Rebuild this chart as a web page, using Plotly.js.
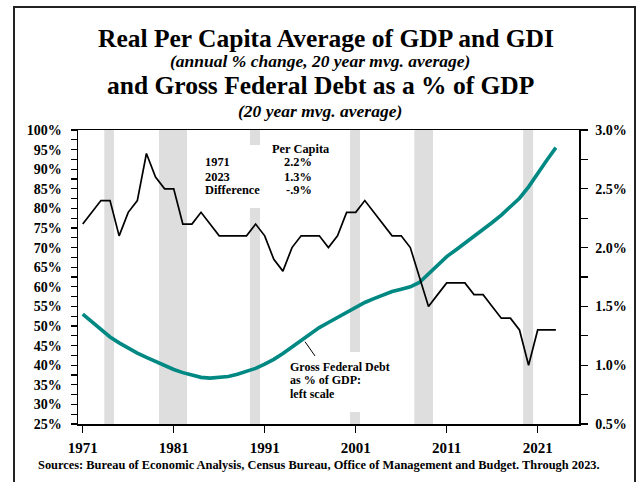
<!DOCTYPE html>
<html>
<head>
<meta charset="utf-8">
<script src="https://cdn.plot.ly/plotly-3.0.1.min.js"></script>
<style>
  html, body { margin: 0; padding: 0; background: #fff; }
  #wrap { position: relative; width: 639px; height: 482px; overflow: hidden; }
  #chart { position: absolute; left: 0; top: 0; width: 639px; height: 482px; }
  #frame {
    position: absolute; left: 13px; top: 6px; width: 623px; height: 500px;
    box-sizing: border-box; border: 2px solid #222; border-bottom: none;
    pointer-events: none;
  }
</style>
</head>
<body>
<div id="wrap">
  <div id="chart"></div>
  <div id="frame"></div>
</div>
<script>
// Annual observations, 1971-2023
const years = [
  1971, 1972, 1973, 1974, 1975, 1976, 1977, 1978, 1979, 1980,
  1981, 1982, 1983, 1984, 1985, 1986, 1987, 1988, 1989, 1990,
  1991, 1992, 1993, 1994, 1995, 1996, 1997, 1998, 1999, 2000,
  2001, 2002, 2003, 2004, 2005, 2006, 2007, 2008, 2009, 2010,
  2011, 2012, 2013, 2014, 2015, 2016, 2017, 2018, 2019, 2020,
  2021, 2022, 2023
];

// Real per capita average of GDP and GDI, annual % change, 20-yr moving average (right scale)
const perCapitaGrowth = [
  2.2, 2.3, 2.4, 2.4, 2.1, 2.3, 2.4, 2.8, 2.6, 2.5,
  2.5, 2.2, 2.2, 2.3, 2.2, 2.1, 2.1, 2.1, 2.1, 2.2,
  2.1, 1.9, 1.8, 2.0, 2.1, 2.1, 2.1, 2.0, 2.1, 2.3,
  2.3, 2.4, 2.3, 2.2, 2.1, 2.1, 2.0, 1.75, 1.5, 1.6,
  1.7, 1.7, 1.7, 1.6, 1.6, 1.5, 1.4, 1.4, 1.3, 1.0,
  1.3, 1.3, 1.3
];

// Gross federal debt as % of GDP, 20-yr moving average (left scale)
const debtToGdp = [
  53.0, 51.0, 49.0, 47.2, 45.7, 44.3, 43.1, 42.0, 40.9, 39.8,
  38.9, 38.1, 37.4, 36.9, 36.7, 36.8, 37.1, 37.7, 38.4, 39.2,
  40.3, 41.5, 43.0, 44.7, 46.4, 48.0, 49.6, 50.9, 52.2, 53.6,
  54.9, 56.0, 57.0, 57.9, 58.8, 59.4, 60.0, 61.1, 63.3, 65.5,
  67.7, 69.4, 71.1, 72.8, 74.5, 76.4, 78.3, 80.4, 82.6, 85.5,
  89.0, 92.3, 95.5
];

// Recession periods (shaded)
const recessions = [
  [1973.37, 1974.44],
  [1979.38, 1982.46],
  [1989.38, 1990.48],
  [2000.37, 2001.47],
  [2007.44, 2009.50],
  [2019.40, 2020.50]
];

const xTicks = [1971, 1981, 1991, 2001, 2011, 2021];

// Summary table
const summaryHeader = 'Per Capita';
const summaryLabels = ['1971', '2023', 'Difference'];
const summaryValues = ['2.2%', '1.3%', '-.9%'];

const titleLines = [
  'Real Per Capita Average of GDP and GDI',
  '(annual % change, 20 year mvg. average)',
  'and Gross Federal Debt as a % of GDP',
  '(20 year mvg. average)'
];
const debtLabel = ['Gross Federal Debt', 'as % of GDP:', 'left scale'];
const sourceNote = 'Sources: Bureau of Economic Analysis, Census Bureau, Office of Management and Budget. Through 2023.';

const SERIF = '"Liberation Serif", "Times New Roman", Times, serif';
const TEAL = '#008883';
const SHADE = '#dedede';

const traces = [
  {
    x: years, y: debtToGdp, type: 'scatter', mode: 'lines',
    yaxis: 'y', line: { color: TEAL, width: 3.6 },
    hoverinfo: 'skip'
  },
  {
    x: years, y: perCapitaGrowth, type: 'scatter', mode: 'lines',
    yaxis: 'y2', line: { color: '#000', width: 1.7 },
    hoverinfo: 'skip'
  }
];

const shapes = recessions.map(r => ({
  type: 'rect', layer: 'below', xref: 'x', yref: 'paper',
  x0: r[0], x1: r[1], y0: 0, y1: 1,
  fillcolor: SHADE, line: { width: 0 }
}));

// White panels behind the text blocks
shapes.push(
  { type: 'rect', layer: 'below', xref: 'paper', yref: 'paper',
    x0: 0.2355, x1: 0.511, y0: 0.7347, y1: 0.949,
    fillcolor: '#fff', line: { width: 0 } },
  { type: 'rect', layer: 'below', xref: 'paper', yref: 'paper',
    x0: 0.4112, x1: 0.6307, y0: 0.0408, y1: 0.2449,
    fillcolor: '#fff', line: { width: 0 } },
  // pointer from the debt label to its line
  { type: 'line', xref: 'paper', yref: 'paper',
    x0: 0.4531, y0: 0.2799, x1: 0.4731, y1: 0.2313,
    line: { color: '#000', width: 1 } }
);

const bold = (size, extra) => Object.assign({ family: SERIF, size: size, color: '#000', weight: 'bold' }, extra || {});

const annotations = [];
const titleSpecs = [
  { y: 1.3129, x: 0.496, size: 25.5, style: 'normal' },
  { y: 1.2347, x: 0.484, size: 17.5, style: 'italic' },
  { y: 1.1497, x: 0.485, size: 25.5, style: 'normal' },
  { y: 1.0646, x: 0.484, size: 17.5, style: 'italic' }
];
titleLines.forEach((t, i) => {
  const s = titleSpecs[i];
  annotations.push({
    text: t, xref: 'paper', yref: 'paper', x: s.x, y: s.y,
    xanchor: 'center', yanchor: 'middle', showarrow: false,
    font: bold(s.size, { style: s.style })
  });
});

annotations.push({
  text: summaryHeader, xref: 'paper', yref: 'paper', x: 0.4445, y: 0.9354,
  xanchor: 'center', yanchor: 'middle', showarrow: false, font: bold(12.4)
});
const rowY = [0.8901, 0.8412, 0.7959];
summaryLabels.forEach((t, i) => {
  annotations.push({
    text: t, xref: 'paper', yref: 'paper', x: 0.2489, y: rowY[i],
    xanchor: 'left', yanchor: 'middle', showarrow: false, font: bold(12.4)
  });
  annotations.push({
    text: summaryValues[i], xref: 'paper', yref: 'paper', x: 0.4711, y: rowY[i],
    xanchor: 'right', yanchor: 'middle', showarrow: false, font: bold(12.4)
  });
});

const debtY = [0.1949, 0.1497, 0.1020];
debtLabel.forEach((t, i) => {
  annotations.push({
    text: t, xref: 'paper', yref: 'paper', x: 0.4198, y: debtY[i],
    xanchor: 'left', yanchor: 'middle', showarrow: false, font: bold(12)
  });
});

annotations.push({
  text: sourceNote, xref: 'paper', yref: 'paper', x: 0.481, y: -0.1395,
  xanchor: 'center', yanchor: 'middle', showarrow: false, font: bold(12.4)
});

const layout = {
  width: 639, height: 482,
  margin: { l: 78, r: 60, t: 130, b: 58 },
  paper_bgcolor: '#fff', plot_bgcolor: '#fff',
  showlegend: false,
  xaxis: {
    range: [1970.48, 2025.54], tickvals: xTicks,
    ticks: 'outside', ticklen: 7, tickwidth: 1.3, tickcolor: '#000',
    showline: true, linecolor: '#000', linewidth: 1.5, mirror: true,
    showgrid: false, zeroline: false, ticklabelstandoff: 2,
    tickfont: bold(15)
  },
  yaxis: {
    range: [25, 100], dtick: 5, ticksuffix: '%',
    ticks: 'outside', ticklen: 6, tickwidth: 1.2, tickcolor: '#000',
    minor: { dtick: 2.5, ticks: 'outside', ticklen: 6, tickwidth: 1.2, tickcolor: '#000', showgrid: false },
    showline: true, linecolor: '#000', linewidth: 1.5,
    showgrid: false, zeroline: false, ticklabelstandoff: 6,
    tickfont: bold(14)
  },
  yaxis2: {
    overlaying: 'y', side: 'right',
    range: [0.5, 3.0], dtick: 0.5, tickformat: '.1f', ticksuffix: '%',
    ticks: 'outside', ticklen: 7, tickwidth: 1.2, tickcolor: '#000',
    minor: { dtick: 0.25, ticks: 'outside', ticklen: 7, tickwidth: 1.2, tickcolor: '#000', showgrid: false },
    showline: true, linecolor: '#000', linewidth: 1.5,
    showgrid: false, zeroline: false, ticklabelstandoff: 5,
    tickfont: bold(14)
  },
  shapes: shapes,
  annotations: annotations
};

Plotly.newPlot('chart', traces, layout, { staticPlot: true, displayModeBar: false });
</script>
</body>
</html>
